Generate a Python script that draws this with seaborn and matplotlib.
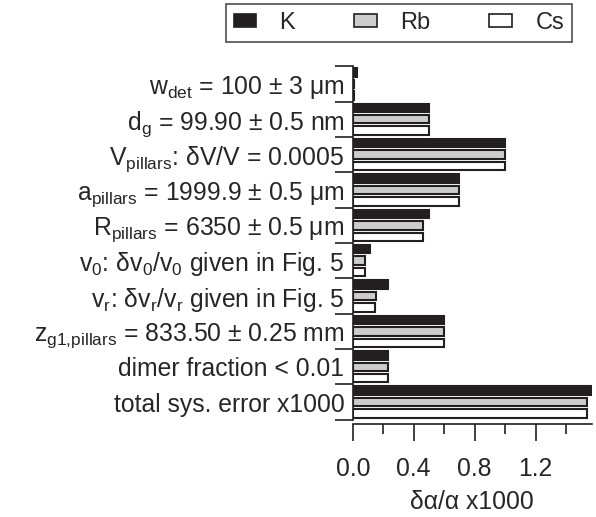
import numpy as np
import pandas as pd
import matplotlib
matplotlib.use("Agg")
import matplotlib.pyplot as plt
from matplotlib.patches import Patch
import seaborn as sns

sns.set_style("ticks")
plt.rcParams['font.family'] = ['Liberation Sans', 'DejaVu Sans']
plt.rcParams['mathtext.fontset'] = 'custom'
plt.rcParams['mathtext.rm'] = 'Liberation Sans'
plt.rcParams['mathtext.it'] = 'Liberation Sans'

# error sources (y-axis categories)
sources = [
    r'w$_\mathrm{det}$ = 100 ± 3 μm',
    r'd$_\mathrm{g}$ = 99.90 ± 0.5 nm',
    r'V$_\mathrm{pillars}$: δV/V = 0.0005',
    r'a$_\mathrm{pillars}$ = 1999.9 ± 0.5 μm',
    r'R$_\mathrm{pillars}$ = 6350 ± 0.5 μm',
    r'v$_\mathrm{0}$: δv$_\mathrm{0}$/v$_\mathrm{0}$ given in Fig. 5',
    r'v$_\mathrm{r}$: δv$_\mathrm{r}$/v$_\mathrm{r}$ given in Fig. 5',
    r'z$_\mathrm{g1{,}pillars}$ = 833.50 ± 0.25 mm',
    'dimer fraction < 0.01',
    'total sys. error x1000',
]
atoms = ['K', 'Rb', 'Cs']

# relative error (x1000) per atom
k_err  = [0.03, 0.50, 1.00, 0.70, 0.50, 0.11, 0.23, 0.60, 0.23, 1.57]
rb_err = [0.005, 0.50, 1.00, 0.70, 0.46, 0.08, 0.15, 0.60, 0.23, 1.54]
cs_err = [0.005, 0.50, 1.00, 0.70, 0.46, 0.08, 0.145, 0.60, 0.23, 1.54]

df = pd.DataFrame({
    'source': sources * 3,
    'atom': ['K'] * 10 + ['Rb'] * 10 + ['Cs'] * 10,
    'err': k_err + rb_err + cs_err,
})

colors = {'K': '#231f20', 'Rb': '#cccccc', 'Cs': '#ffffff'}
fs = 17.8

fig = plt.figure(figsize=(5.96, 5.17), dpi=100)
ax = fig.add_axes([0.592, 0.188, 0.401, 0.684])

sns.barplot(data=df, y='source', x='err', hue='atom', hue_order=atoms,
            palette=colors, orient='h', width=0.97, gap=0.26,
            edgecolor='#231f20', linewidth=1.5, ax=ax, legend=False)

ax.set_xlim(0, 1.57)
ax.set_ylim(9.5, -0.5)
ax.set_ylabel('')
ax.set_xlabel('δα/α x1000', fontsize=fs, labelpad=6)

# x ticks
ax.set_xticks([0.0, 0.4, 0.8, 1.2])
ax.set_xticklabels(['0.0', '0.4', '0.8', '1.2'])
ax.set_xticks([0.2, 0.6, 1.0, 1.4], minor=True)
ax.tick_params(axis='x', which='major', direction='out', length=12, width=1.2,
               pad=12, labelsize=fs, color='#231f20')
ax.tick_params(axis='x', which='minor', direction='out', length=7, width=1.2,
               color='#231f20')

# y ticks: labels at centers, marks at boundaries
ax.set_yticks(np.arange(10))
ax.set_yticklabels(sources)
ax.set_yticks(np.arange(-0.5, 10, 1.0), minor=True)
ax.tick_params(axis='y', which='major', length=0, pad=6, labelsize=fs)
ax.tick_params(axis='y', which='minor', direction='out', length=13, width=1.2,
               color='#231f20')

for side in ['top', 'right']:
    ax.spines[side].set_visible(False)
ax.spines['bottom'].set_position(('outward', 3))
for side in ['left', 'bottom']:
    ax.spines[side].set_linewidth(1.2)
    ax.spines[side].set_color('#231f20')

handles = [Patch(facecolor=colors[a], edgecolor='#231f20', linewidth=1.2, label=a)
           for a in atoms]
leg = fig.legend(handles=handles, loc='upper right', ncol=3,
                 bbox_to_anchor=(572 / 596, 1 - 4 / 517), frameon=True,
                 fancybox=False, fontsize=17, handlelength=0.95,
                 handleheight=0.5, handletextpad=1.0, columnspacing=2.5,
                 borderpad=0.33, borderaxespad=0.0)
leg.get_frame().set_edgecolor('#231f20')
leg.get_frame().set_linewidth(1.2)

fig.savefig('out.png', dpi=100)
